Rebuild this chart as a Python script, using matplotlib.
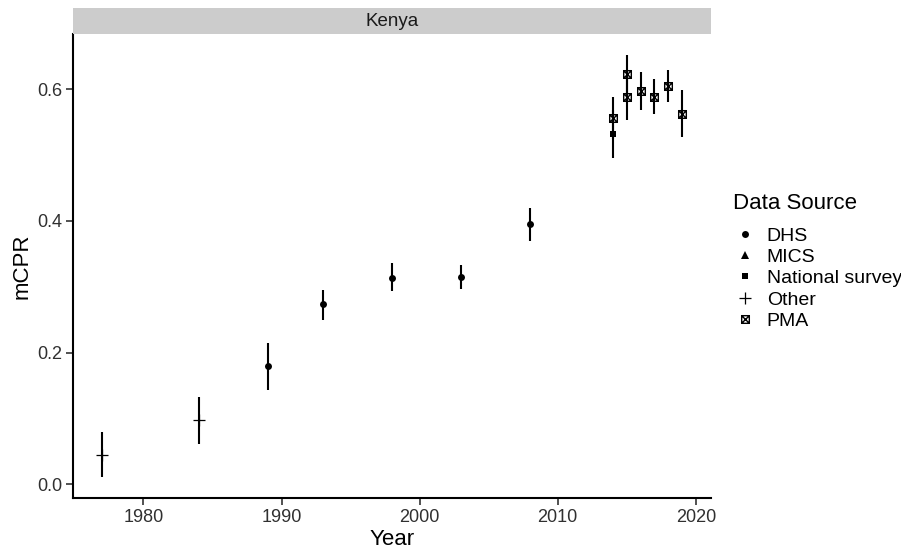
import matplotlib
matplotlib.use("Agg")
import matplotlib.pyplot as plt
from matplotlib.lines import Line2D
from matplotlib.path import Path

plt.rcParams['font.family'] = ['Liberation Sans', 'DejaVu Sans']

#  Kenya mCPR estimates, grouped by data source (value, lower, upper).
dhs_year = [1989, 1993, 1998, 2003, 2008]
dhs_cpr = [0.179, 0.273, 0.314, 0.315, 0.395]
dhs_lo = [0.143, 0.250, 0.293, 0.297, 0.370]
dhs_hi = [0.214, 0.295, 0.336, 0.333, 0.419]

nat_year = [2014]
nat_cpr = [0.532]
nat_lo = [0.496]
nat_hi = [0.568]

other_year = [1977, 1984]
other_cpr = [0.044, 0.097]
other_lo = [0.011, 0.061]
other_hi = [0.080, 0.133]

pma_year = [2014, 2015, 2015, 2016, 2017, 2018, 2019]
pma_cpr = [0.557, 0.623, 0.588, 0.597, 0.589, 0.605, 0.563]
pma_lo = [0.525, 0.594, 0.554, 0.568, 0.563, 0.581, 0.527]
pma_hi = [0.589, 0.652, 0.622, 0.626, 0.615, 0.630, 0.599]

x_ticks = [1980, 1990, 2000, 2010, 2020]
y_ticks = [0.0, 0.2, 0.4, 0.6]
sources = ["DHS", "MICS", "National survey", "Other", "PMA"]

#  Square with a cross inside (R pch 7).
box_x = Path([(-1, -1), (1, -1), (1, 1), (-1, 1), (-1, -1),
              (-1, -1), (1, 1), (-1, 1), (1, -1)],
             [Path.MOVETO, Path.LINETO, Path.LINETO, Path.LINETO, Path.CLOSEPOLY,
              Path.MOVETO, Path.LINETO, Path.MOVETO, Path.LINETO])

styles = {
    "DHS": dict(marker="o", ms=5, mew=0, mfc="black"),
    "MICS": dict(marker="^", ms=6, mew=0, mfc="black"),
    "National survey": dict(marker="s", ms=5, mew=0, mfc="black"),
    "Other": dict(marker="+", ms=8, mew=0.9, mfc="none"),
    "PMA": dict(marker=box_x, ms=5.5, mew=1.0, mfc="none"),
}

fig = plt.figure(figsize=(9.01, 5.5), dpi=100)
ax = fig.add_axes([73 / 901, 52 / 550, 638 / 901, 464 / 550])

series = [
    ("Other", other_year, other_cpr, other_lo, other_hi),
    ("DHS", dhs_year, dhs_cpr, dhs_lo, dhs_hi),
    ("National survey", nat_year, nat_cpr, nat_lo, nat_hi),
    ("PMA", pma_year, pma_cpr, pma_lo, pma_hi),
]
for name, yr, val, lo, hi in series:
    ax.vlines(yr, lo, hi, color="black", lw=1.5)
    ax.plot(yr, val, ls="none", color="black", **styles[name])

#  ggplot style 5% expansion of the data range.
all_x = other_year + dhs_year + nat_year + pma_year
all_lo = other_lo + dhs_lo + nat_lo + pma_lo
all_hi = other_hi + dhs_hi + nat_hi + pma_hi
dx = (max(all_x) - min(all_x)) * 0.05
dy = (max(all_hi) - min(all_lo)) * 0.05
ax.set_xlim(min(all_x) - dx, max(all_x) + dx)
ax.set_ylim(min(all_lo) - dy, max(all_hi) + dy)

ax.set_xticks(x_ticks)
ax.set_yticks(y_ticks)
ax.set_yticklabels(["%.1f" % v for v in y_ticks])
ax.tick_params(labelsize=13, length=5, width=1.2, color="#333333",
               labelcolor="#303030", pad=3)
for s in ["top", "right"]:
    ax.spines[s].set_visible(False)
for s in ["left", "bottom"]:
    ax.spines[s].set_linewidth(1.5)
ax.set_xlabel("Year", fontsize=16, labelpad=2)
ax.set_ylabel("mCPR", fontsize=16, labelpad=3)

#  Facet strip.
strip = fig.add_axes([73 / 901, 516 / 550, 638 / 901, 26 / 550])
strip.set_facecolor("#cccccc")
strip.set_xticks([])
strip.set_yticks([])
for s in strip.spines.values():
    s.set_visible(False)
strip.text(0.5, 0.5, "Kenya", ha="center", va="center", fontsize=13.5,
           color="#1a1a1a", transform=strip.transAxes)

#  Legend: title placed on its own, entries below it.
fig.text(733 / 901, 1 - 209 / 550, "Data Source", fontsize=16,
         ha="left", va="baseline")
handles = [Line2D([], [], ls="none", color="black", **styles[n]) for n in sources]
fig.legend(handles, sources, loc="upper left",
           bbox_to_anchor=(735 / 901, 1 - 227 / 550), frameon=False,
           fontsize=14, handlelength=1.0, handletextpad=0.63,
           labelspacing=0.19, borderaxespad=0, borderpad=0)

fig.savefig("out.png", dpi=100)
